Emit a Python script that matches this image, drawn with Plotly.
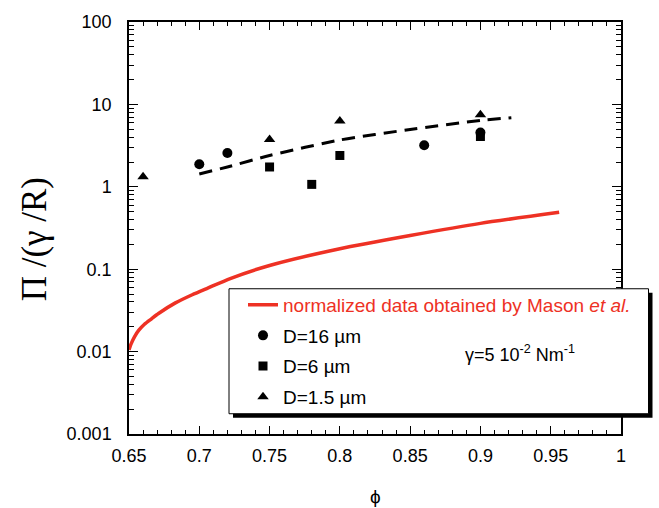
import plotly.graph_objects as go

# ---- data ----
phi_mason = [0.650, 0.6515, 0.654, 0.657, 0.661, 0.666, 0.671, 0.683, 0.695, 0.706, 0.722, 0.75, 0.80, 0.85, 0.90, 0.956]
pi_mason = [0.0105, 0.0124, 0.0152, 0.0182, 0.0215, 0.025, 0.029, 0.039, 0.049, 0.059, 0.077, 0.111, 0.177, 0.256, 0.36, 0.49]

phi_fit = [0.70, 0.72, 0.75, 0.80, 0.85, 0.90, 0.922]
pi_fit = [1.43, 1.74, 2.4, 3.7, 4.96, 6.4, 6.9]

phi_d16 = [0.70, 0.72, 0.86, 0.90]
pi_d16 = [1.88, 2.57, 3.2, 4.57]

phi_d6 = [0.75, 0.78, 0.80, 0.90]
pi_d6 = [1.74, 1.07, 2.4, 4.08]

phi_d15 = [0.66, 0.75, 0.80, 0.90]
pi_d15 = [1.32, 3.74, 6.3, 7.5]

x_ticks = [0.65, 0.7, 0.75, 0.8, 0.85, 0.9, 0.95, 1.0]
x_ticktext = ["0.65", "0.7", "0.75", "0.8", "0.85", "0.9", "0.95", "1"]
y_ticks = [0.001, 0.01, 0.1, 1, 10, 100]
y_ticktext = ["0.001", "0.01", "0.1", "1", "10", "100"]

RED = "#EE3124"
W, H = 659, 508
L, R, T, B = 129, 621, 17, 434


def px(x):
    return (x - L) / (R - L)


def py(y):
    return (B - y) / (B - T)


fig = go.Figure()

fig.add_trace(go.Scatter(
    x=phi_mason, y=pi_mason, mode="lines", line=dict(color=RED, width=3.5, shape="spline", smoothing=0.6),
    name=f"<span style='color:{RED}'>normalized data obtained by Mason <i>et al.</i></span>",
    legendgroup="a"))
fig.add_trace(go.Scatter(
    x=phi_fit, y=pi_fit, mode="lines", line=dict(color="black", width=3, dash="13px,8px", shape="spline", smoothing=0.6),
    showlegend=False))
fig.add_trace(go.Scatter(
    x=phi_d16, y=pi_d16, mode="markers", marker=dict(symbol="circle", size=10, color="black"),
    name="D=16 µm", legendgroup="b"))
fig.add_trace(go.Scatter(
    x=phi_d6, y=pi_d6, mode="markers", marker=dict(symbol="square", size=9, color="black"),
    name="D=6 µm", legendgroup="c"))
fig.add_trace(go.Scatter(
    x=phi_d15, y=pi_d15, mode="markers", marker=dict(symbol="triangle-up", size=10, color="black"),
    name="D=1.5 µm", legendgroup="d"))

axis_common = dict(
    showgrid=False, zeroline=False, showline=True, linecolor="black", linewidth=1.5,
    mirror="ticks", ticks="inside", tickcolor="black", tickwidth=1.2,
    tickfont=dict(family="Liberation Sans, Arial", size=18, color="black"),
)

fig.update_xaxes(
    range=[0.65, 1.0], tickmode="array", tickvals=x_ticks, ticktext=x_ticktext, ticklen=8,
    ticklabelstandoff=5,
    minor=dict(ticks="inside", ticklen=4, dtick=0.01, tick0=0.65, tickcolor="black", tickwidth=1.2, showgrid=False),
    **axis_common)

minor_y = [m * 10 ** e for e in range(-3, 2) for m in range(2, 10)]
fig.update_yaxes(
    type="log", range=[-3, 2], tickmode="array", tickvals=y_ticks, ticktext=y_ticktext, ticklen=9,
    ticklabelstandoff=12,
    minor=dict(ticks="inside", ticklen=5, tickmode="array", tickvals=minor_y, tickcolor="black", tickwidth=1.2, showgrid=False),
    **axis_common)

# legend box with shadow
fig.add_shape(type="rect", xref="paper", yref="paper",
              x0=px(233), x1=px(652.5), y0=py(417.5), y1=py(291),
              fillcolor="black", line=dict(width=0), layer="above")
fig.add_shape(type="rect", xref="paper", yref="paper",
              x0=px(229), x1=px(648.5), y0=py(413.5), y1=py(287),
              fillcolor="white", line=dict(color="black", width=1), layer="above")

fig.add_annotation(text="γ=5 10<sup>-2</sup> Nm<sup>-1</sup>", xref="paper", yref="paper",
                   x=px(463), y=py(353), xanchor="left", yanchor="middle", showarrow=False,
                   font=dict(family="Liberation Sans, Arial", size=18, color="black"))

fig.add_annotation(text="Π /(γ /R)", xref="paper", yref="paper", textangle=-90,
                   x=px(34), y=py(237), xanchor="center", yanchor="middle", showarrow=False,
                   font=dict(family="Liberation Serif, Times New Roman", size=35, color="black"))

fig.add_annotation(text="ϕ", xref="paper", yref="paper",
                   x=px(375), y=py(497), xanchor="center", yanchor="middle", showarrow=False,
                   font=dict(family="Liberation Sans, Arial", size=19, color="black"))

fig.update_layout(
    width=W, height=H,
    margin=dict(l=L, r=W - R, t=T, b=H - B),
    paper_bgcolor="white", plot_bgcolor="white",
    showlegend=True,
    legend=dict(x=px(243), y=py(284), xanchor="left", yanchor="top",
                bgcolor="rgba(0,0,0,0)", borderwidth=0, tracegroupgap=3,
                font=dict(family="Liberation Sans, Arial", size=19, color="black")),
)

fig.write_html("out.html")
